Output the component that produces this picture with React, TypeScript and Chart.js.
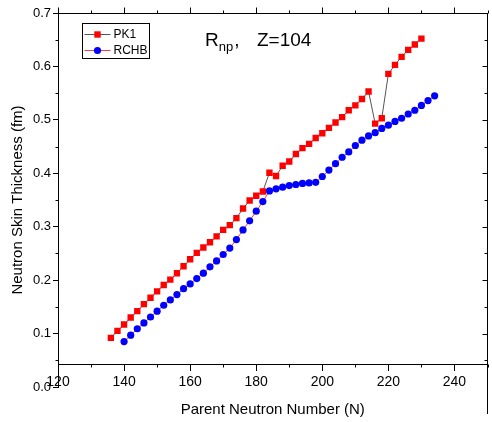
import React, { useEffect, useRef } from 'react';
import { Chart, registerables } from 'chart.js';

Chart.register(...registerables);

// ---- data ----
const pk1N = [
  136, 138, 140, 142, 144, 146, 148, 150, 152, 154,
  156, 158, 160, 162, 164, 166, 168, 170, 172, 174,
  176, 178, 180, 182, 184, 186, 188, 190, 192, 194,
  196, 198, 200, 202, 204, 206, 208, 210, 212, 214,
  216, 218, 220, 222, 224, 226, 228, 230,
];
const pk1Values = [
  0.092, 0.105, 0.117, 0.130, 0.142, 0.155, 0.167, 0.179, 0.191, 0.201,
  0.213, 0.226, 0.239, 0.251, 0.261, 0.271, 0.282, 0.294, 0.303, 0.316,
  0.334, 0.349, 0.358, 0.366, 0.401, 0.395, 0.414, 0.422, 0.436, 0.447,
  0.455, 0.466, 0.475, 0.485, 0.495, 0.505, 0.518, 0.527, 0.539, 0.553,
  0.493, 0.503, 0.586, 0.603, 0.618, 0.631, 0.641, 0.652,
];
const rchbN = [
  140, 142, 144, 146, 148, 150, 152, 154, 156, 158,
  160, 162, 164, 166, 168, 170, 172, 174, 176, 178,
  180, 182, 184, 186, 188, 190, 192, 194, 196, 198,
  200, 202, 204, 206, 208, 210, 212, 214, 216, 218,
  220, 222, 224, 226, 228, 230, 232, 234,
];
const rchbValues = [
  0.085, 0.097, 0.109, 0.120, 0.131, 0.142, 0.153, 0.163, 0.173, 0.184,
  0.193, 0.203, 0.213, 0.225, 0.236, 0.248, 0.260, 0.276, 0.294, 0.311,
  0.329, 0.347, 0.367, 0.371, 0.374, 0.377, 0.379, 0.381, 0.382, 0.383,
  0.394, 0.406, 0.418, 0.430, 0.440, 0.452, 0.462, 0.470, 0.476, 0.484,
  0.490, 0.497, 0.503, 0.511, 0.518, 0.527, 0.536, 0.545,
];
const seriesNames = ['PK1', 'RCHB'];
const xTitle = 'Parent Neutron Number (N)';
const yTitle = 'Neutron Skin Thickness (fm)';
const X_MIN = 120;
const X_MAX = 250;
const X_MAJOR = 20;
const X_MINOR = 10;
const Y_MIN = 0;
const Y_MAX = 0.7;
const Y_MAJOR = 0.1;
const Y_MINOR = 0.05;
const X_AXIS_AT = 0.043;

const FONT = "'Liberation Sans', Arial, Helvetica, sans-serif";

const framePlugin = {
  id: 'frame',
  afterDraw(chart: any) {
    const { ctx, chartArea, scales } = chart;
    const xs = scales.x;
    const ys = scales.y;
    const top = Math.round(chartArea.top) + 0.5;
    const right = Math.round(chartArea.right) - 0.5;
    const left = Math.round(chartArea.left) + 0.5;
    const bottom = Math.round(ys.getPixelForValue(X_AXIS_AT)) + 0.5;
    ctx.save();
    ctx.strokeStyle = '#000';
    ctx.lineWidth = 1;
    ctx.beginPath();
    ctx.moveTo(left - 0.5, top);
    ctx.lineTo(right + 0.5, top);
    ctx.moveTo(right, top);
    ctx.lineTo(right, chart.height - 8);
    const nx = Math.round((X_MAX - X_MIN) / X_MINOR);
    for (let i = 0; i <= nx; i++) {
      const v = X_MIN + i * X_MINOR;
      const px = Math.round(xs.getPixelForValue(v)) + 0.5;
      const major = i % Math.round(X_MAJOR / X_MINOR) === 0;
      const len = major ? 6 : 3;
      ctx.moveTo(px, top);
      ctx.lineTo(px, top - len);
      if (!major) {
        ctx.moveTo(px, bottom);
        ctx.lineTo(px, bottom + len);
      }
    }
    const ny = Math.round((Y_MAX - Y_MIN) / Y_MINOR);
    for (let i = 1; i <= ny; i++) {
      const v = Y_MIN + i * Y_MINOR;
      const py = Math.round(ys.getPixelForValue(v)) + 0.5;
      const major = i % 2 === 0;
      const len = major ? 5 : 3;
      ctx.moveTo(right, py);
      ctx.lineTo(right - len, py);
      if (!major) {
        ctx.moveTo(left, py);
        ctx.lineTo(left - len, py);
      }
    }
    ctx.stroke();

    // annotation R_np, Z=104
    ctx.fillStyle = '#000';
    ctx.textBaseline = 'alphabetic';
    ctx.textAlign = 'left';
    const tx = chartArea.left + 147;
    const ty = chartArea.top + 33;
    ctx.font = `19px ${FONT}`;
    ctx.fillText('R', tx, ty);
    const rw = ctx.measureText('R').width;
    ctx.font = `13px ${FONT}`;
    ctx.fillText('np', tx + rw, ty + 5);
    const nw = ctx.measureText('np').width;
    ctx.font = `19px ${FONT}`;
    ctx.fillText(',', tx + rw + nw + 1, ty);
    ctx.fillText('Z=104', tx + 52, ty);

    // legend box
    const lx = chartArea.left + 24.5;
    const ly = chartArea.top + 10.5;
    const lw = 67;
    const lh = 35;
    ctx.strokeStyle = '#000';
    ctx.lineWidth = 1;
    ctx.strokeRect(lx, ly, lw, lh);
    ctx.font = `12px ${FONT}`;
    ctx.textBaseline = 'middle';
    chart.data.datasets.forEach((ds: any, i: number) => {
      const cy = Math.round(ly + 10 + i * 16);
      ctx.strokeStyle = ds.borderColor;
      ctx.lineWidth = 1;
      ctx.beginPath();
      ctx.moveTo(lx + 2, cy + 0.5);
      ctx.lineTo(lx + 28, cy + 0.5);
      ctx.stroke();
      ctx.fillStyle = ds.pointBackgroundColor;
      ctx.beginPath();
      if (ds.pointStyle === 'rect') {
        ctx.rect(lx + 15 - 3.2, cy + 0.5 - 3.2, 6.4, 6.4);
      } else {
        ctx.arc(lx + 15, cy + 0.5, 3.6, 0, Math.PI * 2);
      }
      ctx.fill();
      ctx.fillStyle = '#000';
      ctx.fillText(ds.label, lx + 31, cy + 1);
    });
    ctx.restore();
  },
};

export default function App() {
  const canvasRef = useRef<HTMLCanvasElement | null>(null);

  useEffect(() => {
    const canvas = canvasRef.current;
    if (!canvas) return;
    Chart.defaults.font.family = FONT;
    Chart.defaults.color = '#000';
    const chart = new Chart(canvas, {
      type: 'line',
      data: {
        datasets: [
          {
            label: seriesNames[0],
            data: pk1N.map((n, i) => ({ x: n, y: pk1Values[i] })),
            borderColor: '#555555',
            borderWidth: 1,
            pointStyle: 'rect',
            pointRadius: 4.5,
            pointBackgroundColor: '#ff0000',
            pointBorderColor: '#ff0000',
            pointBorderWidth: 0,
            tension: 0,
            fill: false,
          },
          {
            label: seriesNames[1],
            data: rchbN.map((n, i) => ({ x: n, y: rchbValues[i] })),
            borderColor: '#ff3b3b',
            borderWidth: 1,
            pointStyle: 'circle',
            pointRadius: 3.6,
            pointBackgroundColor: '#0000ff',
            pointBorderColor: '#0000ff',
            pointBorderWidth: 0,
            tension: 0,
            fill: false,
          },
        ],
      },
      options: {
        responsive: false,
        animation: false,
        events: [],
        layout: { padding: { top: 13, right: 1, bottom: 35, left: 0 } },
        plugins: {
          legend: { display: false },
          tooltip: { enabled: false },
          title: { display: false },
        },
        scales: {
          x: {
            type: 'linear',
            min: X_MIN,
            max: X_MAX,
            position: { y: X_AXIS_AT } as any,
            border: { display: true, color: '#000', width: 1 },
            grid: { display: true, drawOnChartArea: false, drawTicks: true, tickLength: 6, color: '#000' },
            ticks: {
              stepSize: X_MAJOR,
              includeBounds: false,
              padding: 4,
              maxRotation: 0,
              autoSkip: false,
              font: { size: 14 },
              color: '#000',
            },
            title: {
              display: true,
              text: xTitle,
              font: { size: 15 },
              color: '#000',
              padding: { top: 0, bottom: -20 },
            },
            afterFit: (scale: any) => {
              scale.height = 35;
            },
          },
          y: {
            type: 'linear',
            min: Y_MIN,
            max: Y_MAX,
            position: 'left',
            border: { display: true, color: '#000', width: 1 },
            grid: { display: true, drawOnChartArea: false, drawTicks: true, tickLength: 5, color: '#000' },
            ticks: {
              stepSize: Y_MAJOR,
              padding: 2,
              font: { size: 13 },
              color: '#000',
              callback: (v: any) => Number(v).toFixed(1),
            },
            title: {
              display: true,
              text: yTitle,
              font: { size: 15 },
              color: '#000',
              padding: { top: 9, bottom: 0 },
            },
            afterFit: (scale: any) => {
              scale.width = 58;
            },
          },
        },
      },
      plugins: [framePlugin],
    });
    return () => chart.destroy();
  }, []);

  return (
    <div style={{ position: 'fixed', left: 0, top: 0, width: 492, height: 422, background: '#fff' }}>
      <canvas ref={canvasRef} width={492} height={422} style={{ display: 'block' }} />
    </div>
  );
}
